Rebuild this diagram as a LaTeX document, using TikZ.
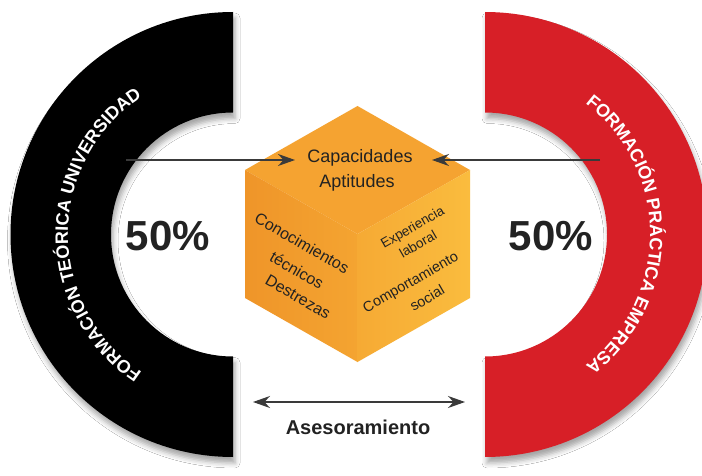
\documentclass[tikz,border=0pt]{standalone}
\usepackage{fontspec}
\setmainfont{Liberation Sans}
\usetikzlibrary{arrows.meta,decorations.text,shadows.blur}
\definecolor{cred}{HTML}{D71F27}
\definecolor{ctop}{HTML}{F5A331}
\definecolor{cleftA}{HTML}{EF9529}
\definecolor{cleftB}{HTML}{F4A431}
\definecolor{crightA}{HTML}{F6AA34}
\definecolor{crightB}{HTML}{FABC3E}
\definecolor{ctxt}{HTML}{222222}
\definecolor{carr}{HTML}{3A3A3A}
\begin{document}
\begin{tikzpicture}[x=1pt,y=1pt,
  >={Stealth[length=17pt,width=12pt]},
  txt/.style={text=ctxt, inner sep=1pt},
  facel/.style={txt, rotate=-30, font=\fontsize{16}{16}\selectfont},
  facer/.style={txt, rotate=30},
  pct/.style={text=ctxt, font=\fontsize{42}{42}\selectfont\bfseries},
  arr/.style={line width=1.2pt, draw=carr},
  shad/.style={blur shadow={shadow xshift=2pt, shadow yshift=-6pt, shadow blur radius=5pt, shadow opacity=35}}]
\useasboundingbox (0,0) rectangle (702,475);
\clip (0,0) rectangle (702,475);
\fill[white] (0,0) rectangle (702,475);
% left half ring
\fill[black, shad] (233,463) arc[start angle=90,end angle=270,radius=222.5]
  -- (233,118.5) arc[start angle=270,end angle=90,radius=122] -- cycle;
% right half ring
\fill[cred, shad] (485,463) arc[start angle=90,end angle=-90,radius=222.5]
  -- (485,118.5) arc[start angle=-90,end angle=90,radius=122] -- cycle;
% curved texts
\path[decorate, decoration={text along path, text align=center,
  text={|\fontsize{18}{18}\selectfont\bfseries\color{white}|FORMACIÓN TEÓRICA UNIVERSIDAD}}]
  (233,240.5) ++(250:165) arc[start angle=250,end angle=110,radius=165];
\path[decorate, decoration={text along path, text align=center,
  text={|\fontsize{18}{18}\selectfont\bfseries\color{white}|FORMACIÓN PRÁCTICA EMPRESA}}]
  (485,240.5) ++(70:165) arc[start angle=70,end angle=-70,radius=165];
% cube
\coordinate (ct) at (357.5,369);
\coordinate (cl) at (245,305);
\coordinate (cm) at (357.5,241);
\coordinate (cr) at (470,305);
\coordinate (cbl) at (245,177);
\coordinate (cbr) at (470,177);
\coordinate (cb) at (357.5,113);
\fill[ctop] (ct) -- (cl) -- (cm) -- (cr) -- cycle;
\shade[left color=cleftA, right color=cleftB] (cl) -- (cm) -- (cb) -- (cbl) -- cycle;
\shade[left color=crightA, right color=crightB] (cm) -- (cr) -- (cbr) -- (cb) -- cycle;
% cube texts
\node[txt, font=\fontsize{18}{18}\selectfont] (cap) at (360,317) {Capacidades};
\node[txt, font=\fontsize{18}{18}\selectfont] (apt) at (357,292) {Aptitudes};
\node[facel] (con) at (302,232) {Conocimientos};
\node[facel] (tec) at (297,205) {técnicos};
\node[facel] (des) at (298,178) {Destrezas};
\node[facer, font=\fontsize{13.5}{13.5}\selectfont] (exp) at (413,247) {Experiencia};
\node[facer, font=\fontsize{13.5}{13.5}\selectfont] (lab) at (418,231) {laboral};
\node[facer, font=\fontsize{14.5}{14.5}\selectfont] (com) at (411,192) {Comportamiento};
\node[facer, font=\fontsize{14.5}{14.5}\selectfont] (soc) at (427,177) {social};
% percentages
\node[pct] (p1) at (168,239) {50\%};
\node[pct] (p2) at (551,239) {50\%};
% arrows to top face
\coordinate (la) at (126,315);
\coordinate (lt) at (295,315);
\coordinate (ra) at (600,315);
\coordinate (rt) at (432,315);
\draw[arr, ->] (la) -- (lt);
\draw[arr, ->] (ra) -- (rt);
% advising arrow
\coordinate (al) at (253,73);
\coordinate (ar) at (465,73);
\draw[arr, <->] (al) -- (ar);
\node[txt, font=\fontsize{20}{20}\selectfont\bfseries] (ase) at (358,48) {Asesoramiento};
\end{tikzpicture}
\end{document}
